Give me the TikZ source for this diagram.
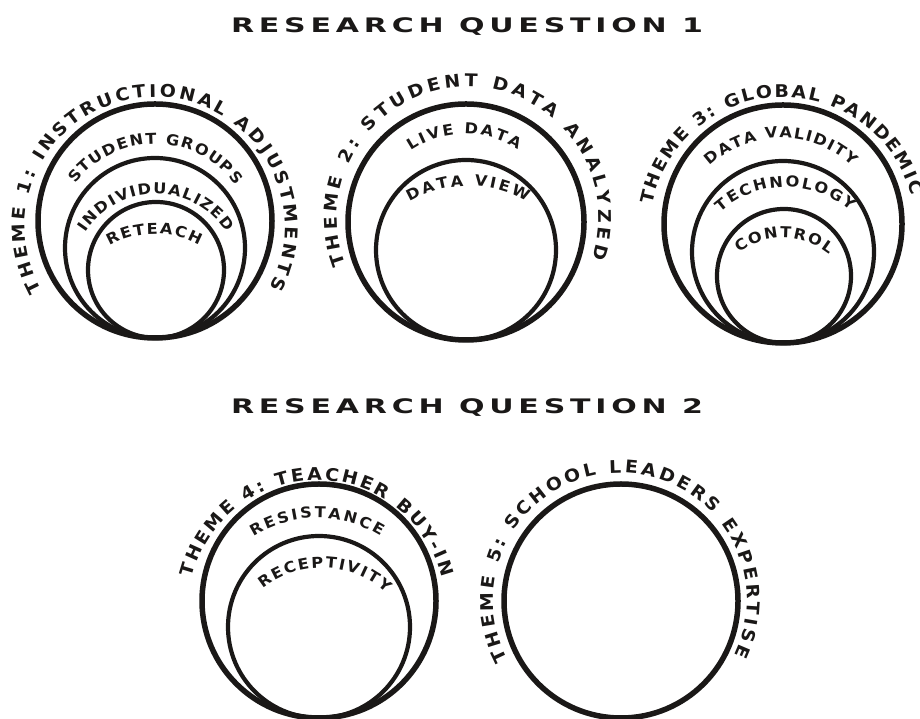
\documentclass[tikz,border=0pt]{standalone}
\usepackage{fontspec}
\usetikzlibrary{decorations.text}
\newfontfamily\headfont[LetterSpace=24,FakeStretch=1.5]{DejaVu Sans}
\newfontfamily\arcfont[FakeStretch=1.08]{DejaVu Sans}
\definecolor{ink}{HTML}{1A1817}

\begin{document}
\begin{tikzpicture}[x=1pt, y=1pt,
      outer/.style={draw=ink, line width=5.5pt},
      inner/.style={draw=ink, line width=4.2pt},
      head/.style={font=\headfont\bfseries\fontsize{20}{22}\selectfont, text=ink},
      themetext/.style={decorate, decoration={text along path, text align={fit to path}, text color=ink,
        text={|\arcfont\bfseries\fontsize{17.5}{19}\selectfont|#1}}},
      ringtext/.style={decorate, decoration={text along path, text align={fit to path}, text color=ink,
        text={|\arcfont\bfseries\fontsize{15}{17}\selectfont|#1}}},
    ]
      \useasboundingbox (0,0) rectangle (920,719);

      \node[head] (rq1) at (467,692) {RESEARCH QUESTION 1};
      \node[head] (rq2) at (467,311) {RESEARCH QUESTION 2};

      % theme 1
      \draw[outer] (155,498) circle[radius=117];
      \draw[inner] (155,471) circle[radius=90];
      \draw[inner] (156,449) circle[radius=68];
      \path[themetext={THEME 1: INSTRUCTIONAL ADJUSTMENTS}] (155,492) ++(209:130) arc[start angle=209, end angle=-28, radius=130];
      \path[ringtext={STUDENT GROUPS}] (155,475) ++(143:100) arc[start angle=143, end angle=36, radius=100];
      \path[ringtext={INDIVIDUALIZED}] (156,441) ++(147:84) arc[start angle=147, end angle=33, radius=84];
      \path[ringtext={RETEACH}] (155,394) ++(120:91) arc[start angle=120, end angle=61, radius=91];

      % theme 2
      \draw[outer] (466,497) circle[radius=118];
      \draw[inner] (466,469) circle[radius=90];
      \path[themetext={THEME 2: STUDENT DATA ANALYZED}] (468,501) ++(201:131) arc[start angle=201, end angle=-18, radius=131];
      \path[ringtext={LIVE DATA}] (465,488) ++(124:97) arc[start angle=124, end angle=57, radius=97];
      \path[ringtext={DATA VIEW}] (468,416) ++(120:117) arc[start angle=120, end angle=60, radius=117];

      % theme 3
      \draw[outer] (783,495) circle[radius=119];
      \draw[inner] (783,467) circle[radius=91];
      \draw[inner] (784,443) circle[radius=67];
      \path[themetext={THEME 3: GLOBAL PANDEMIC}] (783,489) ++(169:133) arc[start angle=169, end angle=15, radius=133];
      \path[ringtext={DATA VALIDITY}] (781,477) ++(133:104) arc[start angle=133, end angle=47, radius=104];
      \path[ringtext={TECHNOLOGY}] (786,434) ++(132:98) arc[start angle=132, end angle=49, radius=98];
      \path[ringtext={CONTROL}] (783,408) ++(127:73) arc[start angle=127, end angle=51, radius=73];

      % theme 4
      \draw[outer] (319,118) circle[radius=117];
      \draw[inner] (319,92) circle[radius=91];
      \path[themetext={THEME 4: TEACHER BUY-IN}] (317,110) ++(166:129) arc[start angle=166, end angle=14, radius=129];
      \path[ringtext={RESISTANCE}] (317,81) ++(122:120) arc[start angle=122, end angle=58, radius=120];
      \path[ringtext={RECEPTIVITY}] (322,57) ++(129:94) arc[start angle=129, end angle=47, radius=94];

      % theme 5
      \draw[outer] (621,118) circle[radius=117];
      \path[themetext={THEME 5: SCHOOL LEADERS EXPERTISE}] (620,119) ++(208:127) arc[start angle=208, end angle=-26, radius=127];
    \end{tikzpicture}
\end{document}
